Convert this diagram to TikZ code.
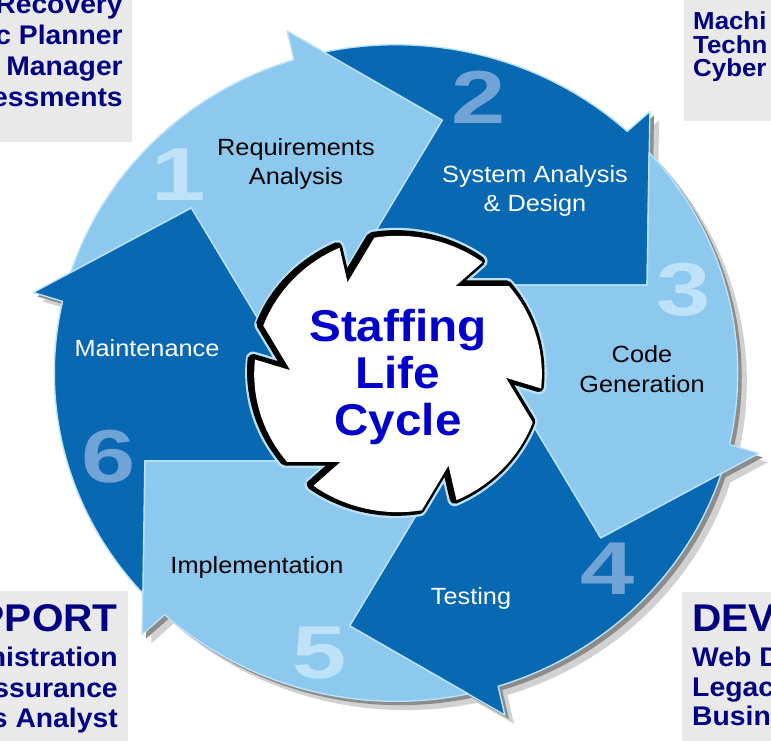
\documentclass[tikz,border=0pt]{standalone}
\usepackage{fontspec}
\setmainfont{Liberation Sans}

\definecolor{lightArrow}{RGB}{141,201,238}
\definecolor{darkArrow}{RGB}{8,104,178}
\definecolor{rimBlue}{RGB}{186,226,249}
\definecolor{numLight}{RGB}{190,227,248}
\definecolor{numDark}{RGB}{112,164,214}
\definecolor{hubBlue}{RGB}{0,0,204}
\definecolor{navyText}{RGB}{0,0,128}
\definecolor{boxGray}{RGB}{233,233,233}

% one arrow of the ring, #1 = angle of its tip
\newcommand{\arrowshape}[1]{(#1+82.2:335) arc[start angle=#1+82.2, end angle=#1+27.4, radius=335] -- (#1+27:365) -- (#1:262) -- (#1+37.9:105.8) -- (0,0) -- (#1+97.9:105.8) -- (#1+60:262) -- cycle}
% white hub with the six hooks
\newcommand{\hubpath}{(114:141) \foreach \hk in {80,20,-40,-100,-160,-220} { -- (\hk+37.9:105.8) -- (\hk+19.5:141) arc[start angle=\hk+19.5, end angle=\hk-26, radius=141] } -- cycle}

\tikzset{
  arrowpart/.style={draw=rimBlue, line width=1.2pt, line join=round},
  steplabel/.style={font=\fontsize{20}{25.5}\selectfont, align=center, xscale=1.08},
  stepnum/.style={font=\fontsize{64}{64}\selectfont\bfseries, xscale=1.3, inner sep=0pt},
  hubtext/.style={font=\fontsize{38}{40}\selectfont\bfseries, text=hubBlue, align=center, xscale=1.07},
  cornerbox/.style={fill=boxGray},
  cornertext/.style={font=\fontsize{23}{23}\selectfont\bfseries, text=navyText, xscale=1.05, inner sep=0pt},
  cornersmall/.style={cornertext, font=\fontsize{21}{21}\selectfont\bfseries, xscale=1},
  cornerhead/.style={cornertext, font=\fontsize{33}{33}\selectfont\bfseries, xscale=1},
}

\begin{document}
\begin{tikzpicture}[x=0.03cm,y=0.03cm]
  %frame
  \useasboundingbox (-396,-368) rectangle (375,373);
  \clip (-396,-368) rectangle (375,373);
  \coordinate (c) at (0,0);

  %corner boxes
  \fill[cornerbox] (-396,373) rectangle (-264,231);
  \fill[cornerbox] (288,373) rectangle (375,252);
  \fill[cornerbox] (-396,-218) rectangle (-268,-368);
  \fill[cornerbox] (286,-219) rectangle (375,-368);

  \foreach \line [count=\i] in {Recovery, c Planner, Manager, essments}
    \node[cornertext, anchor=base east] (tl\i) at (-273, {359-31*(\i-1)}) {\line};
  \foreach \line [count=\i] in {Machi, Techn, Cyber}
    \node[cornersmall, anchor=base west] (tr\i) at (297, {343-23.5*(\i-1)}) {\line};
  \node[cornerhead, anchor=base east] (blhead) at (-278,-259) {PPORT};
  \foreach \line [count=\i] in {nistration, ssurance, s Analyst}
    \node[cornertext, anchor=base east] (bl\i) at (-278, {-294-30.5*(\i-1)}) {\line};
  \node[cornerhead, anchor=base west] (brhead) at (296,-259) {DEVE};
  \foreach \line [count=\i] in {Web D, Legac, Busin}
    \node[cornertext, anchor=base west] (br\i) at (296, {-294-29.5*(\i-1)}) {\line};

  %ring of arrows
  \begin{scope}[xscale=1.02,yscale=0.98]
    \foreach \ang in {80,20,-40,-100,-160,-220} {
      \fill[black!18, shift={(9,-9)}] \arrowshape{\ang};
      \fill[black!45, shift={(4,-4)}] \arrowshape{\ang};
    }
    \foreach \ang/\col in {80/lightArrow,20/darkArrow,-40/lightArrow,-100/darkArrow,-160/lightArrow,-220/darkArrow}
      \filldraw[arrowpart, fill=\col] \arrowshape{\ang};
    %hub
    \draw[rimBlue, line width=12pt, line join=round] \hubpath;
    \fill[black, shift={(-5,2)}] \hubpath;
    \draw[black, line width=8pt, line join=round] \hubpath;
    \fill[white, shift={(2,-1)}] \hubpath;
  \end{scope}

  %numbers
  \node[stepnum, text=numLight] (num1) at (-217,198) {1};
  \node[stepnum, text=numDark] (num2) at (83,276) {2};
  \node[stepnum, text=numLight] (num3) at (288,83) {3};
  \node[stepnum, text=numDark] (num4) at (212,-196) {4};
  \node[stepnum, text=numLight] (num5) at (-76,-280) {5};
  \node[stepnum, text=numDark] (num6) at (-287,-84) {6};

  %labels
  \node[steplabel] (req) at (-100,209) {Requirements\\Analysis};
  \node[steplabel, text=white] (sad) at (139,182) {System Analysis\\\& Design};
  \node[steplabel] (code) at (246,4) {Code\\Generation};
  \node[steplabel, text=white] (test) at (75,-225) {Testing};
  \node[steplabel] (impl) at (-139,-194) {Implementation};
  \node[steplabel, text=white] (maint) at (-249,25) {Maintenance};

  \node[hubtext] (hub) at (2,-4) {Staffing\\Life\\Cycle};
\end{tikzpicture}
\end{document}
